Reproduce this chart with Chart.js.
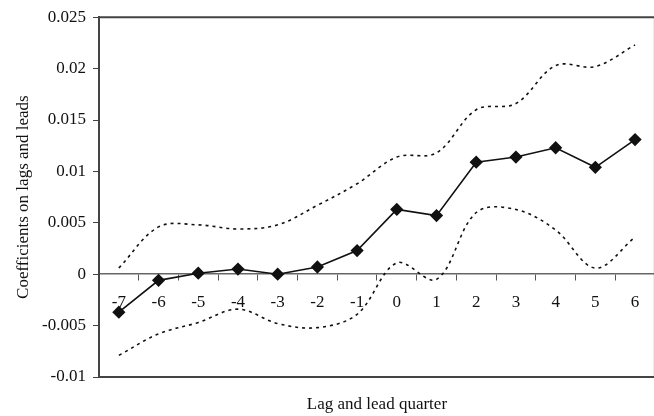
<!DOCTYPE html>
<html>
<head>
<meta charset="utf-8">
<script src="https://cdn.jsdelivr.net/npm/chart.js@4.4.1/dist/chart.umd.min.js"></script>
<style>
  html, body { margin: 0; padding: 0; background: #fff; overflow: hidden; }
  #wrap { width: 662px; height: 416px; position: relative; }
</style>
</head>
<body>
<div id="wrap"><canvas id="lagChart" width="662" height="416"></canvas></div>
<script>
// data
const lags = ['-7', '-6', '-5', '-4', '-3', '-2', '-1', '0', '1', '2', '3', '4', '5', '6'];
const coef = [-0.0037, -0.0006, 0.0001, 0.0005, 0.0000, 0.0007, 0.0023, 0.0063, 0.0057, 0.0109, 0.0114, 0.0123, 0.0104, 0.0131];
const upperBand = [0.0006, 0.0046, 0.0048, 0.0044, 0.0048, 0.0067, 0.0088, 0.0114, 0.0118, 0.0160, 0.0166, 0.0203, 0.0202, 0.0223];
const lowerBand = [-0.0079, -0.0058, -0.0047, -0.0034, -0.0048, -0.0052, -0.0039, 0.0011, -0.0005, 0.0060, 0.0063, 0.0043, 0.0006, 0.0036];
const yTicks = [-0.01, -0.005, 0, 0.005, 0.01, 0.015, 0.02, 0.025];

const serif = 'Liberation Serif, Times New Roman, serif';

// frame lines at top and bottom of the plot
const framePlugin = {
    id: 'frame',
    afterDraw(chart) {
        const { ctx, chartArea: a } = chart;
        ctx.save();
        ctx.strokeStyle = '#444';
        ctx.lineWidth = 2;
        ctx.beginPath();
        ctx.moveTo(a.left, a.top);
        ctx.lineTo(a.right, a.top);
        ctx.lineTo(a.right, a.bottom);
        ctx.lineTo(a.left, a.bottom);
        ctx.stroke();
        ctx.restore();
    }
};

const bandStyle = {
    borderColor: '#111',
    borderWidth: 1.6,
    borderDash: [3, 4],
    pointRadius: 0,
    tension: 0.35,
    fill: false
};

new Chart(document.getElementById('lagChart').getContext('2d'), {
    type: 'line',
    data: {
        labels: lags,
        datasets: [
            {
                label: 'Coefficient',
                data: coef,
                borderColor: '#111',
                borderWidth: 1.6,
                pointStyle: 'rectRot',
                pointRadius: 5.5,
                pointBackgroundColor: '#111',
                pointBorderColor: '#111',
                tension: 0
            },
            { label: 'Upper', data: upperBand, ...bandStyle },
            { label: 'Lower', data: lowerBand, ...bandStyle }
        ]
    },
    options: {
        responsive: false,
        animation: false,
        layout: { padding: { top: 14, right: 6, left: 0, bottom: 0 } },
        plugins: {
            legend: { display: false },
            tooltip: { enabled: false }
        },
        scales: {
            x: {
                type: 'category',
                position: { y: 0 },
                offset: true,
                grid: { display: true, drawOnChartArea: false, offset: true, tickLength: 6, color: '#555', lineWidth: 1 },
                border: { display: true, color: '#666', width: 1.5 },
                ticks: { color: '#111', padding: 12, font: { family: serif, size: 17 } }
            },
            x2: {
                type: 'category',
                position: 'bottom',
                grid: { display: false },
                border: { display: false },
                ticks: { display: false },
                title: {
                    display: true,
                    text: 'Lag and lead quarter',
                    color: '#111',
                    padding: { top: 4, bottom: 1 },
                    font: { family: serif, size: 17 }
                },
                afterFit(scale) { scale.height = 39; }
            },
            y: {
                min: -0.01,
                max: 0.025,
                afterBuildTicks(scale) { scale.ticks = yTicks.map(v => ({ value: v })); },
                grid: { display: true, drawOnChartArea: false, tickLength: 6, color: '#444' },
                border: { display: true, color: '#444', width: 2 },
                ticks: {
                    color: '#111',
                    padding: 7,
                    font: { family: serif, size: 17 },
                    callback: v => String(+v.toFixed(3))
                },
                title: {
                    display: true,
                    text: 'Coefficients on lags and leads',
                    color: '#111',
                    padding: { top: 13, bottom: 0 },
                    font: { family: serif, size: 17 }
                },
                afterFit(scale) { scale.width = 99; }
            }
        }
    },
    plugins: [framePlugin]
});
</script>
</body>
</html>
